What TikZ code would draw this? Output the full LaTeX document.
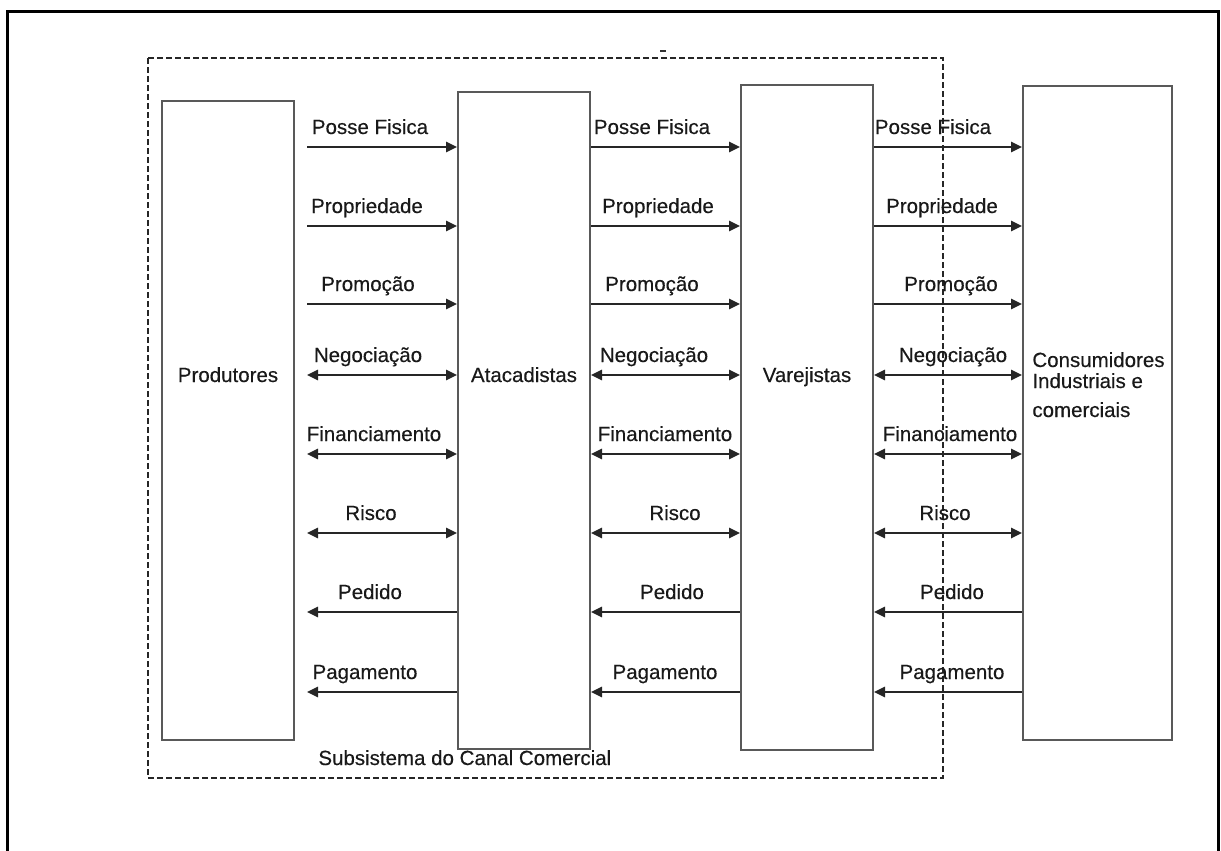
\documentclass[tikz,border=0pt]{standalone}
\usepackage{fontspec}
\setmainfont{Liberation Sans}[FakeBold=0.35]
\usetikzlibrary{arrows.meta}
\begin{document}
\begin{tikzpicture}[x=0.5pt,y=-0.5pt,
  >={Triangle[length=5.5pt,width=5.2pt]},
  box/.style={draw=black!65, line width=1pt, inner sep=0pt, minimum width=66pt},
  flow/.style={draw=black!85, line width=1pt},
  lbl/.style={anchor=base, inner sep=0pt, text=black!90, font=\fontsize{10.25pt}{12pt}\selectfont},
  title/.style={anchor=base, inner sep=0pt, text=black!90, font=\fontsize{10.25pt}{12pt}\selectfont},
  subsys/.style={draw=black!85, line width=0.75pt, dash pattern=on 3pt off 1.5pt},
  frame/.style={draw=black, line width=1.5pt}]

\useasboundingbox (0,0) rectangle (1221,851);

% page frame, open at the bottom
\draw[frame] (7,851) -- (7,11) -- (1218,11) -- (1218,851);
\draw[black!80, line width=1pt] (660,51) -- (666,51);

% commercial channel subsystem
\draw[subsys] (148,58) rectangle (943,778);
\node[title, anchor=base west] (sub) at (318,765) {Subsistema do Canal Comercial};

% channel members
\node[box, minimum height=319.5pt] (prod)  at (228,420.5) {};
\node[box, minimum height=328.5pt] (atac)  at (524,420.5) {};
\node[box, minimum height=332.5pt] (varej) at (807,417.5) {};
\node[box, minimum height=327pt, minimum width=74.5pt] (cons) at (1097.5,413) {};

\node[title] (tprod)  at (228,382) {Produtores};
\node[title] (tatac)  at (524,382) {Atacadistas};
\node[title] (tvarej) at (807,382) {Varejistas};
\node[title, anchor=base west] (tcons1) at (1032,367) {Consumidores};
\node[title, anchor=base west] (tcons2) at (1032,388) {Industriais e};
\node[title, anchor=base west] (tcons3) at (1032,417) {comerciais};

% forward flows
\foreach \n/\y/\lab/\xa/\xb/\xc in {1/147/Posse Fisica/370/652/933,
    2/226/Propriedade/367/658/942, 3/304/Promoção/368/652/951}{
  \coordinate (s\n) at (307,\y);
  \draw[flow,->] (s\n) -- (s\n -| atac.west);
  \draw[flow,->] (s\n -| atac.east) -- (s\n -| varej.west);
  \draw[flow,->] (s\n -| varej.east) -- (s\n -| cons.west);
  \node[lbl] (la\n) at (\xa,\y-13) {\lab};
  \node[lbl] (lb\n) at (\xb,\y-13) {\lab};
  \node[lbl] (lc\n) at (\xc,\y-13) {\lab};
}

% two-way flows
\foreach \n/\y/\lab/\xa/\xb/\xc in {4/375/Negociação/368/654/953,
    5/454/Financiamento/374/665/950, 6/533/Risco/371/675/945}{
  \coordinate (s\n) at (307,\y);
  \draw[flow,<->] (s\n) -- (s\n -| atac.west);
  \draw[flow,<->] (s\n -| atac.east) -- (s\n -| varej.west);
  \draw[flow,<->] (s\n -| varej.east) -- (s\n -| cons.west);
  \node[lbl] (la\n) at (\xa,\y-13) {\lab};
  \node[lbl] (lb\n) at (\xb,\y-13) {\lab};
  \node[lbl] (lc\n) at (\xc,\y-13) {\lab};
}

% backward flows
\foreach \n/\y/\lab/\xa/\xb/\xc in {7/612/Pedido/370/672/952,
    8/692/Pagamento/365/665/952}{
  \coordinate (s\n) at (307,\y);
  \draw[flow,<-] (s\n) -- (s\n -| atac.west);
  \draw[flow,<-] (s\n -| atac.east) -- (s\n -| varej.west);
  \draw[flow,<-] (s\n -| varej.east) -- (s\n -| cons.west);
  \node[lbl] (la\n) at (\xa,\y-13) {\lab};
  \node[lbl] (lb\n) at (\xb,\y-13) {\lab};
  \node[lbl] (lc\n) at (\xc,\y-13) {\lab};
}
\end{tikzpicture}
\end{document}
